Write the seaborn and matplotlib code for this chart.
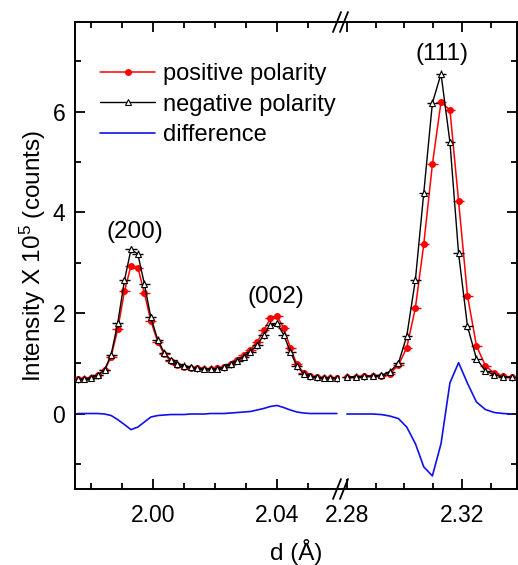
import matplotlib
matplotlib.use("Agg")
import matplotlib.pyplot as plt
import numpy as np
import pandas as pd
import seaborn as sns

# d spacing (Angstrom) of the measured points, left and right of the axis break
d_left = [1.9758, 1.9779, 1.9801, 1.9822, 1.9844, 1.9865, 1.9886, 1.9908, 1.9929, 1.9951,
          1.9972, 1.9993, 2.0015, 2.0036, 2.0058, 2.0079, 2.0100, 2.0122, 2.0143, 2.0165,
          2.0186, 2.0207, 2.0229, 2.0250, 2.0272, 2.0293, 2.0314, 2.0336, 2.0357, 2.0379,
          2.0400, 2.0421, 2.0443, 2.0464, 2.0486, 2.0507, 2.0528, 2.0550, 2.0571, 2.0593]
d_right = [2.2800, 2.2830, 2.2860, 2.2890, 2.2919, 2.2949, 2.2979, 2.3008, 2.3038, 2.3067,
           2.3097, 2.3127, 2.3158, 2.3188, 2.3219, 2.3250, 2.3281, 2.3312, 2.3343, 2.3374]

# intensity x 1e5 counts
pos_left = [0.68, 0.69, 0.71, 0.76, 0.86, 1.13, 1.67, 2.43, 2.94, 2.90,
            2.40, 1.84, 1.43, 1.18, 1.04, 0.97, 0.93, 0.91, 0.90, 0.89,
            0.89, 0.90, 0.93, 0.99, 1.07, 1.16, 1.27, 1.42, 1.65, 1.89,
            1.94, 1.70, 1.31, 0.98, 0.81, 0.75, 0.72, 0.71, 0.71, 0.70]
neg_left = [0.68, 0.69, 0.71, 0.76, 0.87, 1.17, 1.79, 2.65, 3.26, 3.17,
            2.58, 1.91, 1.47, 1.21, 1.06, 0.99, 0.95, 0.92, 0.90, 0.89,
            0.89, 0.89, 0.92, 0.98, 1.05, 1.13, 1.23, 1.36, 1.56, 1.76,
            1.79, 1.57, 1.23, 0.94, 0.79, 0.74, 0.72, 0.71, 0.71, 0.70]
diff_left = [0.00, 0.00, 0.00, 0.00, -0.01, -0.04, -0.12, -0.22, -0.32, -0.27,
             -0.17, -0.07, -0.04, -0.03, -0.02, -0.02, -0.02, -0.01, -0.01, -0.01,
             0.00, 0.00, 0.00, 0.01, 0.02, 0.03, 0.04, 0.07, 0.10, 0.14,
             0.16, 0.12, 0.07, 0.03, 0.01, 0.00, 0.00, 0.00, 0.00, 0.00]

pos_right = [0.73, 0.73, 0.74, 0.74, 0.75, 0.79, 0.96, 1.31, 2.10, 3.36,
             4.95, 6.19, 6.03, 4.22, 2.34, 1.35, 0.95, 0.80, 0.74, 0.72]
neg_right = [0.73, 0.73, 0.74, 0.75, 0.76, 0.83, 1.00, 1.54, 2.66, 4.38,
             6.17, 6.75, 5.39, 3.18, 1.73, 1.09, 0.85, 0.77, 0.73, 0.72]
diff_right = [-0.01, -0.01, -0.01, -0.01, -0.02, -0.05, -0.10, -0.27, -0.60, -1.06,
              -1.24, -0.60, 0.61, 1.01, 0.60, 0.23, 0.08, 0.02, 0.00, -0.01]

peaks = ["(200)", "(002)", "(111)"]
peak_d = [1.9942, 2.0397, 2.3129]
peak_y = [3.61, 2.32, 7.15]

XERR = 0.0018
YERR_NEG = 0.07

sns.set_theme(style="ticks")
plt.rcParams["font.family"] = ["Liberation Sans", "DejaVu Sans"]
plt.rcParams["mathtext.fontset"] = "custom"
plt.rcParams["mathtext.rm"] = "Liberation Sans"
plt.rcParams["mathtext.default"] = "regular"
for key in ("text.color", "axes.labelcolor", "xtick.color", "ytick.color",
            "axes.edgecolor"):
    plt.rcParams[key] = "black"

W, H = 518, 565
fig = plt.figure(figsize=(W / 100, H / 100), dpi=100)
fig.patch.set_facecolor("white")

x0, x_brk, x1 = 75, 340, 517
y_top, y_bot = 22, 489
b = 1 - y_bot / H
h = (y_bot - y_top) / H
axL = fig.add_axes([x0 / W, b, (x_brk - x0) / W, h])
axR = fig.add_axes([x_brk / W, b, (x1 - x_brk) / W, h])

panels = [
    (axL, d_left, pos_left, neg_left, diff_left),
    (axR, d_right, pos_right, neg_right, diff_right),
]
for ax, d, pos, neg, dif in panels:
    df = pd.DataFrame({"d": d, "pos": pos, "neg": neg, "diff": dif})
    ax.set_facecolor("white")
    ax.errorbar(df["d"], df["pos"], xerr=XERR, fmt="none", ecolor="red",
                elinewidth=1.0, capsize=0, zorder=2)
    sns.lineplot(data=df, x="d", y="pos", ax=ax, color="red", lw=1.1,
                 marker="o", markersize=5, markeredgewidth=0,
                 errorbar=None, label="positive polarity", zorder=3)
    ax.errorbar(df["d"], df["neg"], xerr=XERR, yerr=YERR_NEG, fmt="none",
                ecolor="black", elinewidth=1.0, capsize=0, zorder=4)
    sns.lineplot(data=df, x="d", y="neg", ax=ax, color="black", lw=1.0,
                 marker="^", markersize=5, markerfacecolor="white",
                 markeredgecolor="black", markeredgewidth=0.8,
                 errorbar=None, label="negative polarity", zorder=5)
    sns.lineplot(data=df, x="d", y="diff", ax=ax, color="#1010ee", lw=1.2,
                 errorbar=None, label="difference", zorder=3)
    ax.set_ylim(-1.5, 7.78)
    ax.set_yticks([0, 2, 4, 6])
    ax.set_yticks([-1, 1, 3, 5, 7], minor=True)
    ax.set_xlabel("")
    ax.set_ylabel("")
    for s in ax.spines.values():
        s.set_linewidth(1.4)
        s.set_color("black")
    ax.tick_params(which="both", direction="in", top=True, width=1.3,
                   labelsize=16.5, colors="black")
    ax.tick_params(which="major", length=7)
    ax.tick_params(which="minor", length=4.5)
    ax.tick_params(axis="x", pad=11)
    ax.tick_params(axis="y", pad=7)

axL.set_xlim(1.97484, 2.06032)
axL.set_xticks([2.00, 2.04])
axL.set_xticks([1.98, 1.99, 2.01, 2.02, 2.03, 2.05], minor=True)
axL.xaxis.set_major_formatter(matplotlib.ticker.FormatStrFormatter("%.2f"))
axL.spines["right"].set_visible(False)
axL.tick_params(which="both", right=False)

axR.set_xlim(2.2776, 2.3391)
axR.set_xticks([2.28, 2.32])
axR.set_xticks([2.29, 2.30, 2.31, 2.33], minor=True)
axR.xaxis.set_major_formatter(matplotlib.ticker.FormatStrFormatter("%.2f"))
axR.spines["left"].set_visible(False)
axR.tick_params(which="both", left=False, right=True, labelleft=False)

axL.set_ylabel(r"Intensity X 10$^{5}$ (counts)", fontsize=17.5, labelpad=3)
fig.text((x0 + x1) / 2 / W, 1 - 552 / H, "d (Å)", ha="center", va="center",
         fontsize=17.5)

# peak labels
for lab, pd_, py in zip(peaks, peak_d, peak_y):
    ax = axL if pd_ < 2.1 else axR
    ax.text(pd_, py, lab, ha="center", va="center", fontsize=17.5)

# legend
for ax in (axL, axR):
    if ax.get_legend() is not None:
        ax.get_legend().remove()
handles, labels = axL.get_legend_handles_labels()
axL.legend(handles, labels, loc="upper left", frameon=False, fontsize=17,
           bbox_to_anchor=(100 / W, 1 - 63 / H), bbox_transform=fig.transFigure,
           borderpad=0, borderaxespad=0, handlelength=2.35, handletextpad=0.3,
           labelspacing=0.37)

# axis break marks
for yb in (y_bot, y_top):
    for xc in (x_brk - 3, x_brk + 4):
        fig.add_artist(plt.Line2D([(xc - 4) / W, (xc + 4) / W],
                                  [1 - (yb + 10) / H, 1 - (yb - 10) / H],
                                  color="black", lw=1.3,
                                  transform=fig.transFigure))

fig.savefig("out.png", dpi=100, facecolor="white")
